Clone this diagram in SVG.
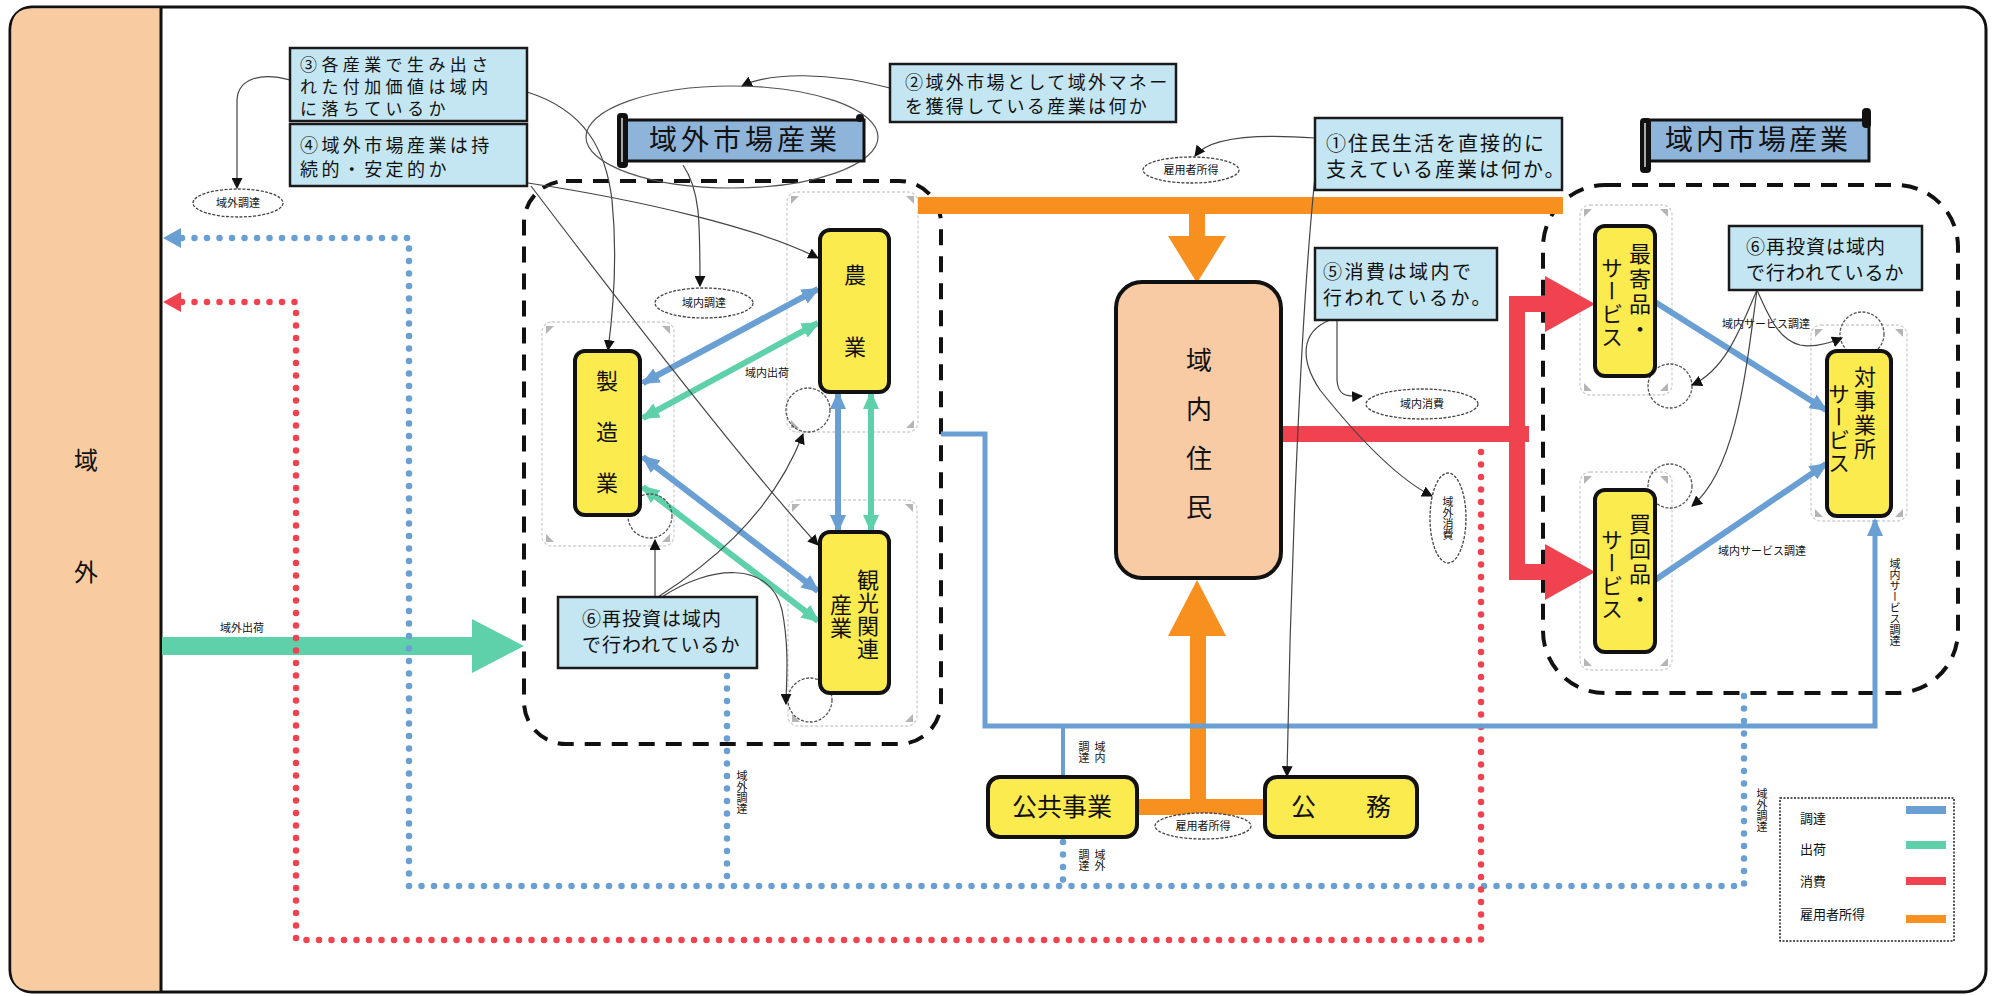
<svg xmlns="http://www.w3.org/2000/svg" width="1993" height="996" viewBox="0 0 1993 996">
<style>
.t{font-family:"Noto Sans CJK JP","Noto Sans CJK SC",sans-serif;fill:#111}
.box{fill:#C4E6F2;stroke:#1a1a1a;stroke-width:2.5}
.node{fill:#FCEB4F;stroke:#111;stroke-width:4}
.thin{fill:none;stroke:#444;stroke-width:1.2}
.ghost{fill:none;stroke:#cfcfcf;stroke-width:1.3;stroke-dasharray:3 2}
.tri{fill:#b5b5b5}
.loop{fill:none;stroke:#555;stroke-width:1.3;stroke-dasharray:3 1.5}
.ell{fill:#fff;stroke:#444;stroke-width:1.3;stroke-dasharray:3 1.5}
.bl{fill:none;stroke:#6A9FD4;stroke-width:6}
.gr{fill:none;stroke:#5ED1AB;stroke-width:6}
.bdot{fill:none;stroke:#6A9FD4;stroke-width:6.5;stroke-dasharray:0 12.5;stroke-linecap:round}
.rdot{fill:none;stroke:#F0424F;stroke-width:6.5;stroke-dasharray:0 12.5;stroke-linecap:round}
.vt{writing-mode:vertical-rl;text-anchor:middle}
.sm{font-size:11px}
.bx{font-size:20px}
.bx3{font-size:19px;letter-spacing:1px}
.bx2{font-size:17px;letter-spacing:4.4px}
.bx4{font-size:18px;letter-spacing:3.4px}
.nd{font-size:22px}
</style>
<defs>
<marker id="ah" viewBox="0 0 10 10" refX="9" refY="5" markerWidth="11" markerHeight="11" markerUnits="userSpaceOnUse" orient="auto"><path d="M0,0 L10,5 L0,10 z" fill="#111"/></marker>
<marker id="ab" viewBox="0 0 18 16" refX="16" refY="8" markerWidth="18" markerHeight="16" markerUnits="userSpaceOnUse" orient="auto-start-reverse"><path d="M0,0 L18,8 L0,16 z" fill="#6A9FD4"/></marker>
<marker id="ag" viewBox="0 0 18 16" refX="16" refY="8" markerWidth="18" markerHeight="16" markerUnits="userSpaceOnUse" orient="auto-start-reverse"><path d="M0,0 L18,8 L0,16 z" fill="#5ED1AB"/></marker>
</defs>

<!-- frame -->
<rect x="10" y="7" width="1976" height="985" rx="22" fill="#fff" stroke="#111" stroke-width="3"/>
<g id="outside">
<path d="M161,8.5 L32,8.5 Q11.5,8.5 11.5,30 L11.5,970 Q11.5,990.5 32,990.5 L161,990.5 Z" fill="#F8CBA0"/>
<line x1="161" y1="8" x2="161" y2="991" stroke="#111" stroke-width="3"/>
<text class="t" font-size="24" text-anchor="middle"><tspan x="86" y="469">域</tspan><tspan x="86" y="581">外</tspan></text>
</g>

<!-- ghost selection frames -->
<g id="ghosts">
<rect class="ghost" x="542" y="322" width="132" height="224" rx="10"/>
<rect class="ghost" x="787" y="192" width="131" height="240" rx="10"/>
<rect class="ghost" x="788" y="500" width="129" height="226" rx="10"/>
<rect class="ghost" x="1580" y="205" width="92" height="190" rx="10"/>
<rect class="ghost" x="1580" y="472" width="92" height="198" rx="10"/>
<rect class="ghost" x="1811" y="325" width="96" height="196" rx="10"/>
<g class="tri">
<path d="M546,326 l8,0 l-8,8z M670,326 l-8,0 l8,8z M546,542 l8,0 l-8,-8z M670,542 l-8,0 l8,-8z"/>
<path d="M791,196 l8,0 l-8,8z M914,196 l-8,0 l8,8z M791,428 l8,0 l-8,-8z M914,428 l-8,0 l8,-8z"/>
<path d="M792,504 l8,0 l-8,8z M913,504 l-8,0 l8,8z M792,722 l8,0 l-8,-8z M913,722 l-8,0 l8,-8z"/>
<path d="M1584,209 l8,0 l-8,8z M1668,209 l-8,0 l8,8z M1584,391 l8,0 l-8,-8z M1668,391 l-8,0 l8,-8z"/>
<path d="M1584,476 l8,0 l-8,8z M1668,476 l-8,0 l8,8z M1584,666 l8,0 l-8,-8z M1668,666 l-8,0 l8,-8z"/>
<path d="M1815,329 l8,0 l-8,8z M1903,329 l-8,0 l8,8z M1815,517 l8,0 l-8,-8z M1903,517 l-8,0 l8,-8z"/>
</g>
</g>

<!-- regions -->
<g id="region-outer-market">
<rect x="524" y="181" width="417" height="563" rx="42" fill="none" stroke="#111" stroke-width="4" stroke-dasharray="16 11"/>
</g>
<g id="region-inner-market">
<rect x="1543" y="185" width="415" height="508" rx="62" fill="none" stroke="#111" stroke-width="4" stroke-dasharray="16 11"/>
</g>

<!-- connectors -->
<g id="connectors">
<!-- orange employee income -->
<rect x="918" y="197" width="645" height="17" fill="#F7901E"/>
<rect x="1189" y="213" width="16" height="26" fill="#F7901E"/>
<polygon points="1168,236 1226,236 1197,283" fill="#F7901E"/>
<rect x="1137" y="799" width="129" height="16" fill="#F7901E"/>
<rect x="1190" y="632" width="16" height="170" fill="#F7901E"/>
<polygon points="1168,636 1226,636 1197,580" fill="#F7901E"/>

<!-- red consumption -->
<rect x="1281" y="426" width="248" height="16" fill="#F0424F"/>
<rect x="1509" y="296" width="16" height="284" fill="#F0424F"/>
<rect x="1509" y="296" width="40" height="16" fill="#F0424F"/>
<rect x="1509" y="564" width="40" height="16" fill="#F0424F"/>
<polygon points="1545,276 1595,304 1545,332" fill="#F0424F"/>
<polygon points="1545,544 1595,572 1545,600" fill="#F0424F"/>

<!-- green outside shipment -->
<rect x="162" y="637" width="312" height="18" fill="#5ED1AB"/>
<polygon points="472,619 524,646 472,673" fill="#5ED1AB"/>
<text class="t sm" x="242" y="632" text-anchor="middle">域外出荷</text>

<!-- dotted blue (域外調達) -->
<path class="bdot" d="M182,238 L409,238 L409,886 L1744,886 L1744,692"/>
<polygon points="163,238 181,228 181,248" fill="#6A9FD4"/>
<path class="bdot" d="M727,676 L727,886"/>
<path class="bdot" d="M1063,842 L1063,886"/>
<!-- dotted red (域外消費) -->
<path class="rdot" d="M182,302 L296,302 L296,940 L1481,940 L1481,442"/>
<polygon points="163,302 181,292 181,312" fill="#F0424F"/>

<!-- solid blue procurement line -->
<path d="M941,434 L985,434 L985,726 L1875,726 L1875,520" fill="none" stroke="#6A9FD4" stroke-width="5" marker-end="url(#ab)"/>
<line x1="1063" y1="726" x2="1063" y2="776" stroke="#6A9FD4" stroke-width="4"/>

<!-- double arrows among outer-market industries -->
<line class="bl" x1="643" y1="383" x2="818" y2="289" marker-start="url(#ab)" marker-end="url(#ab)"/>
<line class="gr" x1="643" y1="418" x2="818" y2="323" marker-start="url(#ag)" marker-end="url(#ag)"/>
<line class="bl" x1="643" y1="457" x2="818" y2="591" marker-start="url(#ab)" marker-end="url(#ab)"/>
<line class="gr" x1="643" y1="487" x2="818" y2="621" marker-start="url(#ag)" marker-end="url(#ag)"/>
<line class="bl" x1="838" y1="393" x2="838" y2="531" marker-start="url(#ab)" marker-end="url(#ab)"/>
<line class="gr" x1="871" y1="393" x2="871" y2="531" marker-start="url(#ag)" marker-end="url(#ag)"/>
<text class="t sm" x="767" y="377" text-anchor="middle">域内出荷</text>

<!-- inner market blue arrows -->
<line class="bl" x1="1655" y1="302" x2="1826" y2="410" marker-end="url(#ab)"/>
<line class="bl" x1="1655" y1="580" x2="1826" y2="464" marker-end="url(#ab)"/>
<text class="t sm" x="1766" y="328" text-anchor="middle">域内サービス調達</text>
<text class="t sm" x="1762" y="555" text-anchor="middle">域内サービス調達</text>
<text class="t sm vt" x="1895" y="602">域内サービス調達</text>

<!-- self loops -->
<circle class="loop" cx="650" cy="516" r="22"/>
<circle class="loop" cx="808" cy="410" r="22"/>
<circle class="loop" cx="810" cy="700" r="22"/>
<circle class="loop" cx="1670" cy="386" r="22"/>
<circle class="loop" cx="1670" cy="486" r="22"/>
<circle class="loop" cx="1862" cy="334" r="22"/>

<!-- annotation arrows -->
<path class="thin" d="M290,80 C262,72 238,78 237,100 L237,188" marker-end="url(#ah)"/>
<path class="thin" d="M527,92 C585,110 606,150 612,200 C618,260 612,320 608,350" marker-end="url(#ah)"/>
<path class="thin" d="M528,183 C640,200 760,228 818,258" marker-end="url(#ah)"/>
<path class="thin" d="M531,186 C610,290 740,460 818,545" marker-end="url(#ah)"/>
<path class="thin" d="M683,165 C700,190 700,220 700,286" marker-end="url(#ah)"/>
<path class="thin" d="M890,88 C830,72 770,72 742,86" marker-end="url(#ah)"/>
<ellipse cx="732" cy="137" rx="146" ry="51" fill="none" stroke="#555" stroke-width="1.2"/>
<path class="thin" d="M1315,138 C1260,134 1210,136 1195,156" marker-end="url(#ah)"/>
<path class="thin" d="M1318,150 C1300,300 1290,600 1287,776" marker-end="url(#ah)"/>
<path class="thin" d="M655,597 L655,540" marker-end="url(#ah)"/>
<path class="thin" d="M658,597 C700,570 770,520 803,434" marker-end="url(#ah)"/>
<path class="thin" d="M662,597 C710,565 770,560 782,610 C790,650 786,685 786,704" marker-end="url(#ah)"/>
<path class="thin" d="M1337,320 L1337,380 C1338,395 1345,397 1362,396" marker-end="url(#ah)"/>
<path class="thin" d="M1330,320 C1300,332 1300,360 1320,390 C1360,440 1400,480 1432,496" marker-end="url(#ah)"/>
<path class="thin" d="M1757,290 C1740,330 1725,370 1692,385" marker-end="url(#ah)"/>
<path class="thin" d="M1757,290 C1745,380 1735,470 1692,506" marker-end="url(#ah)"/>
<path class="thin" d="M1757,290 C1770,320 1780,340 1800,345 C1815,348 1830,343 1842,338" marker-end="url(#ah)"/>

<!-- label ellipses -->
<ellipse class="ell" cx="238" cy="203" rx="45" ry="14"/>
<text class="t sm" x="238" y="207" text-anchor="middle">域外調達</text>
<ellipse class="ell" cx="704" cy="303" rx="49" ry="15"/>
<text class="t sm" x="704" y="307" text-anchor="middle">域内調達</text>
<ellipse class="ell" cx="1191" cy="170" rx="48" ry="13"/>
<text class="t sm" x="1191" y="174" text-anchor="middle">雇用者所得</text>
<ellipse class="ell" cx="1203" cy="826" rx="48" ry="13"/>
<text class="t sm" x="1203" y="830" text-anchor="middle">雇用者所得</text>
<ellipse class="ell" cx="1422" cy="404" rx="56" ry="15"/>
<text class="t sm" x="1422" y="408" text-anchor="middle">域内消費</text>
<ellipse class="ell" cx="1448" cy="518" rx="18" ry="45"/>
<text class="t sm vt" x="1448" y="518">域外消費</text>

<!-- small vertical labels -->
<text class="t sm vt" x="742" y="792">域外調達</text>
<text class="t sm vt" x="1762" y="810">域外調達</text>
<text class="t sm vt" x="1100" y="752">域内</text>
<text class="t sm vt" x="1084" y="752">調達</text>
<text class="t sm vt" x="1100" y="860">域外</text>
<text class="t sm vt" x="1084" y="860">調達</text>
</g>

<!-- question boxes -->
<g id="q3">
<rect class="box" x="290" y="48" width="237" height="73"/>
<text class="t bx2"><tspan x="300" y="71">③各産業で生み出さ</tspan><tspan x="300" y="93">れた付加価値は域内</tspan><tspan x="300" y="115">に落ちているか</tspan></text>
</g>
<g id="q4">
<rect class="box" x="290" y="124" width="237" height="62"/>
<text class="t bx4"><tspan x="300" y="152">④域外市場産業は持</tspan><tspan x="300" y="176">続的・安定的か</tspan></text>
</g>
<g id="q2">
<rect class="box" x="890" y="64" width="286" height="58"/>
<text class="t" font-size="18" letter-spacing="2.4"><tspan x="905" y="89">②域外市場として域外マネー</tspan><tspan x="905" y="113">を獲得している産業は何か</tspan></text>
</g>
<g id="q1">
<rect class="box" x="1315" y="118" width="247" height="72"/>
<text class="t bx" letter-spacing="2"><tspan x="1326" y="151">①住民生活を直接的に</tspan><tspan x="1326" y="177">支えている産業は何か。</tspan></text>
</g>
<g id="q5">
<rect class="box" x="1315" y="248" width="182" height="72"/>
<text class="t" font-size="19" letter-spacing="2.5"><tspan x="1323" y="279">⑤消費は域内で</tspan><tspan x="1323" y="305">行われているか。</tspan></text>
</g>
<g id="q6a">
<rect class="box" x="558" y="597" width="199" height="71"/>
<text class="t bx3"><tspan x="582" y="626">⑥再投資は域内</tspan><tspan x="582" y="652">で行われているか</tspan></text>
</g>
<g id="q6b">
<rect class="box" x="1729" y="226" width="193" height="64"/>
<text class="t bx3"><tspan x="1746" y="254">⑥再投資は域内</tspan><tspan x="1746" y="280">で行われているか</tspan></text>
</g>

<!-- banners -->
<g id="banner-outer">
<rect x="624" y="120" width="240" height="41" fill="#8FB4DA" stroke="#111" stroke-width="3"/>
<rect x="617" y="113" width="11" height="55" rx="4" fill="#111"/>
<line x1="622" y1="118" x2="622" y2="162" stroke="#ddd" stroke-width="1.5"/>
<circle cx="860" cy="118" r="4" fill="#111"/>
<text class="t" x="745" y="150" font-size="28" text-anchor="middle" letter-spacing="4">域外市場産業</text>
</g>
<g id="banner-inner">
<rect x="1646" y="120" width="223" height="41" fill="#8FB4DA" stroke="#111" stroke-width="3"/>
<rect x="1640" y="118" width="11" height="55" rx="4" fill="#111"/>
<line x1="1645" y1="123" x2="1645" y2="167" stroke="#ddd" stroke-width="1.5"/>
<rect x="1862" y="108" width="9" height="20" rx="4" fill="#111"/>
<text class="t" x="1758" y="150" font-size="28" text-anchor="middle" letter-spacing="3">域内市場産業</text>
</g>

<!-- industry nodes -->
<g id="seizo">
<rect class="node" x="575" y="351" width="65" height="164" rx="10"/>
<text class="t nd vt" x="607" y="446" letter-spacing="29">製造業</text>
</g>
<g id="nogyo">
<rect class="node" x="820" y="230" width="69" height="162" rx="10"/>
<text class="t nd vt" x="855" y="336" letter-spacing="50">農業</text>
</g>
<g id="kanko">
<rect class="node" x="820" y="532" width="69" height="161" rx="10"/>
<text class="t nd vt" x="868" y="615" letter-spacing="1">観光関連</text>
<text class="t nd vt" x="841" y="617" letter-spacing="1">産業</text>
</g>
<g id="jumin">
<rect x="1116" y="282" width="165" height="296" rx="26" fill="#F8CBA4" stroke="#111" stroke-width="4"/>
<text class="t vt" x="1199" y="445" font-size="26" letter-spacing="23">域内住民</text>
</g>
<g id="kokyo">
<rect class="node" x="988" y="777" width="149" height="60" rx="12"/>
<text class="t" x="1062" y="816" font-size="25" text-anchor="middle">公共事業</text>
</g>
<g id="komu">
<rect class="node" x="1265" y="777" width="152" height="60" rx="12"/>
<text class="t" x="1341" y="816" font-size="25" text-anchor="middle" xml:space="preserve">公　　務</text>
</g>
<g id="moyori">
<rect class="node" x="1595" y="226" width="60" height="150" rx="10"/>
<text class="t nd vt" x="1640" y="293" letter-spacing="3">最寄品・</text>
<text class="t nd vt" x="1612" y="303" letter-spacing="1">サービス</text>
</g>
<g id="kaimawari">
<rect class="node" x="1595" y="490" width="60" height="162" rx="10"/>
<text class="t nd vt" x="1640" y="563" letter-spacing="3">買回品・</text>
<text class="t nd vt" x="1612" y="575" letter-spacing="1">サービス</text>
</g>
<g id="taijigyo">
<rect class="node" x="1827" y="351" width="64" height="165" rx="10"/>
<text class="t nd vt" x="1865" y="414" letter-spacing="2">対事業所</text>
<text class="t nd vt" x="1839" y="429" letter-spacing="1">サービス</text>
</g>

<!-- legend -->
<g id="legend">
<rect x="1780" y="798" width="174" height="143" fill="#fff" stroke="#222" stroke-width="1.5" stroke-dasharray="2 1.5"/>
<text class="t" font-size="13"><tspan x="1800" y="823">調達</tspan><tspan x="1800" y="854">出荷</tspan><tspan x="1800" y="886">消費</tspan><tspan x="1800" y="919">雇用者所得</tspan></text>
<rect x="1906" y="806" width="40" height="8" fill="#6A9FD4"/>
<rect x="1906" y="841" width="40" height="8" fill="#5ED1AB"/>
<rect x="1906" y="877" width="40" height="8" fill="#F0424F"/>
<rect x="1906" y="915" width="40" height="8" fill="#F7901E"/>
</g>
</svg>
